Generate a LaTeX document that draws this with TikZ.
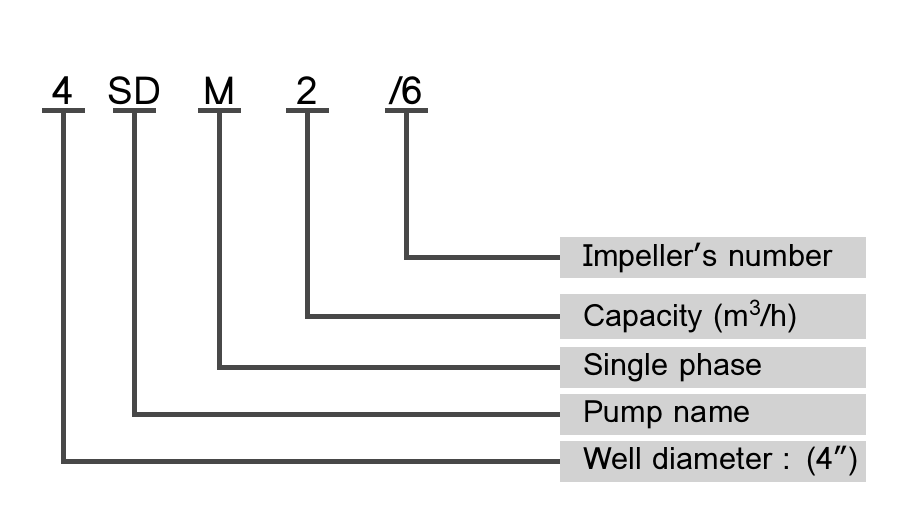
\documentclass[tikz,border=0pt]{standalone}
\usepackage{fontspec}
\setmainfont{Loma}
\usepackage{xcolor}
\definecolor{lead}{RGB}{72,72,72}
\definecolor{boxgray}{RGB}{210,210,210}
\usepackage{tikz}
\usetikzlibrary{positioning}

\begin{document}
\begin{tikzpicture}[x=0.02cm,y=-0.02cm,
  code/.style={inner xsep=0pt,inner ysep=0pt,text depth=0pt,
               font=\fontsize{22}{26}\selectfont,anchor=base},
  desc/.style={fill=boxgray,anchor=west,minimum height=0.82cm,
               inner xsep=0pt,text width=6.12cm,align=left,
               font=\fontsize{17.5}{20}\selectfont},
  bar/.style={draw=lead,line width=2.8pt},
  wire/.style={draw=lead,line width=2.8pt},
]
  \useasboundingbox (0,0) rectangle (900,505);
  %% model code
  \node[code] (c4) at (63.5,104) {4};
  \node[code] (csd) at (134.5,104) {SD};
  \node[code] (cm) at (219.5,104) {M};
  \node[code] (c2) at (307.5,104) {2};
  \node[code] (c6) at (406.5,104) {/6};
  \foreach \n in {c4,csd,cm,c2,c6}
    \draw[bar] ([shift={(-0.43cm,-0.13cm)}]\n.south) -- ([shift={(0.43cm,-0.13cm)}]\n.south);
  %% meanings
  \node[desc] (d6) at (560,257.5) {\hspace*{0.46cm}Impeller’s number};
  \node[desc] (d2) at (560,316.5) {\hspace*{0.46cm}Capacity (m\textsuperscript{3}/h)};
  \node[desc] (dm) at (560,367.5) {\hspace*{0.46cm}Single phase};
  \node[desc] (dsd) at (560,414.5) {\hspace*{0.46cm}Pump name};
  \node[desc] (d4) at (560,461.5) {\hspace*{0.46cm}Well diameter : (4”)};
  %% leads
  \draw[wire] ([yshift=-0.13cm]c6.south) |- (d6.west);
  \draw[wire] ([yshift=-0.13cm]c2.south) |- (d2.west);
  \draw[wire] ([yshift=-0.13cm]cm.south) |- (dm.west);
  \draw[wire] ([yshift=-0.13cm]csd.south) |- (dsd.west);
  \draw[wire] ([yshift=-0.13cm]c4.south) |- (d4.west);
\end{tikzpicture}
\end{document}
